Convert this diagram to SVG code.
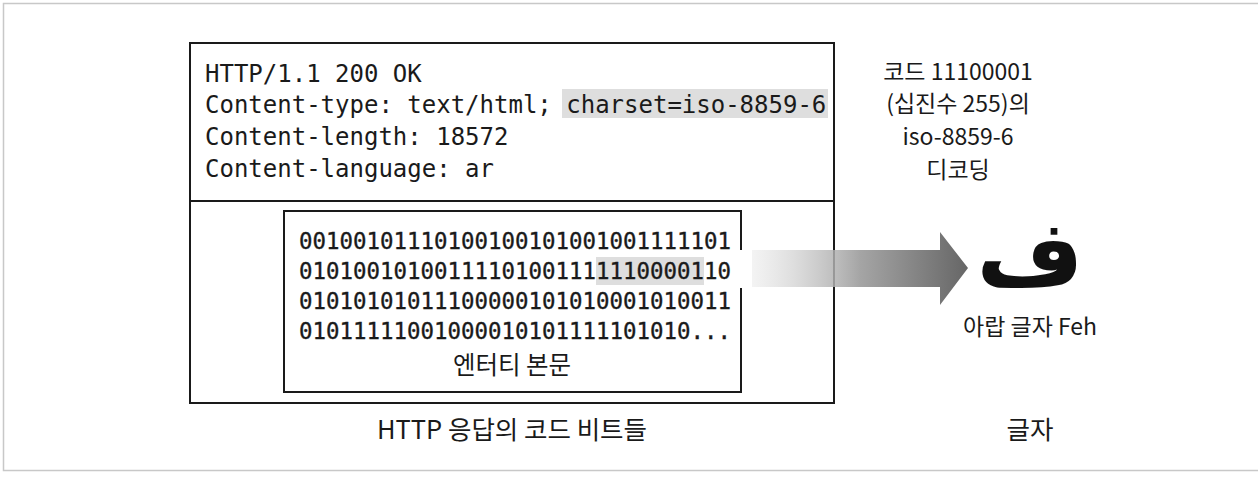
<svg xmlns="http://www.w3.org/2000/svg" width="1258" height="482" viewBox="0 0 1258 482">
<style>
.mono{font-family:"DejaVu Sans Mono","Liberation Mono",monospace;fill:#1a1a1a}
.bin{stroke:#1a1a1a;stroke-width:0.35}
.ko{font-family:"Noto Sans CJK KR","Noto Sans",sans-serif;fill:#1a1a1a;font-size:23px;text-anchor:middle}
.ko.lg{font-size:25.5px}
.ko.md{font-size:24.5px}
.box{fill:none;stroke:#1a1a1a;stroke-width:2}
.hl{fill:#dedede}
</style>
<defs>
<linearGradient id="ag" x1="752" y1="0" x2="968" y2="0" gradientUnits="userSpaceOnUse">
<stop offset="0" stop-color="#d8d8d8" stop-opacity="0.3"/>
<stop offset="0.5" stop-color="#a5a5a5"/>
<stop offset="1" stop-color="#666666"/>
</linearGradient>
</defs>
<rect x="3.5" y="3.5" width="1256" height="467" fill="#ffffff" stroke="#c8c8c8" stroke-width="1.5"/>
<g id="http-response">
<rect class="box" x="190" y="43" width="644" height="360"/>
<line x1="190" y1="201" x2="834" y2="201" stroke="#1a1a1a" stroke-width="2"/>
<rect class="hl" x="562" y="89" width="266" height="29"/>
<text class="mono" font-size="24" x="205" y="82">HTTP/1.1 200 OK</text>
<text class="mono" font-size="24" x="205" y="113">Content-type: text/html; charset=iso-8859-6</text>
<text class="mono" font-size="24" x="205" y="145">Content-length: 18572</text>
<text class="mono" font-size="24" x="205" y="177">Content-language: ar</text>
<text class="ko lg" x="512" y="439">HTTP 응답의 코드 비트들</text>
</g>
<g id="entity-body">
<path class="box" d="M741 250 V211 H284 V392 H741 V288"/>
<rect class="hl" x="596" y="257" width="108" height="28"/>
<text class="mono bin" font-size="22.4" x="299" y="249" textLength="432">00100101110100100101001001111101</text>
<text class="mono bin" font-size="22.4" x="299" y="279" textLength="432">01010010100111101001111110000110</text>
<text class="mono bin" font-size="22.4" x="299" y="309" textLength="432">01010101011100000101010001010011</text>
<text class="mono bin" font-size="22.4" x="299" y="339" textLength="432">01011111001000010101111101010...</text>
<text class="ko md" x="512" y="374">엔터티 본문</text>
</g>
<g id="connectors">
<path d="M752 250 H940 V232 L968 268 L940 305 V287 H752 Z" fill="url(#ag)"/>
</g>
<g id="decode-label">
<text class="ko" x="958" y="80">코드 11100001</text>
<text class="ko" x="958" y="112">(십진수 255)의</text>
<text class="ko" x="958" y="145">iso-8859-6</text>
<text class="ko" x="958" y="178">디코딩</text>
</g>
<g id="character">
<text x="1030" y="286" font-family="DejaVu Sans,sans-serif" font-weight="bold" font-size="92" text-anchor="middle" fill="#111">ف</text>
<text class="ko" x="1030" y="335">아랍 글자 Feh</text>
<text class="ko lg" x="1030" y="439">글자</text>
</g>
</svg>
